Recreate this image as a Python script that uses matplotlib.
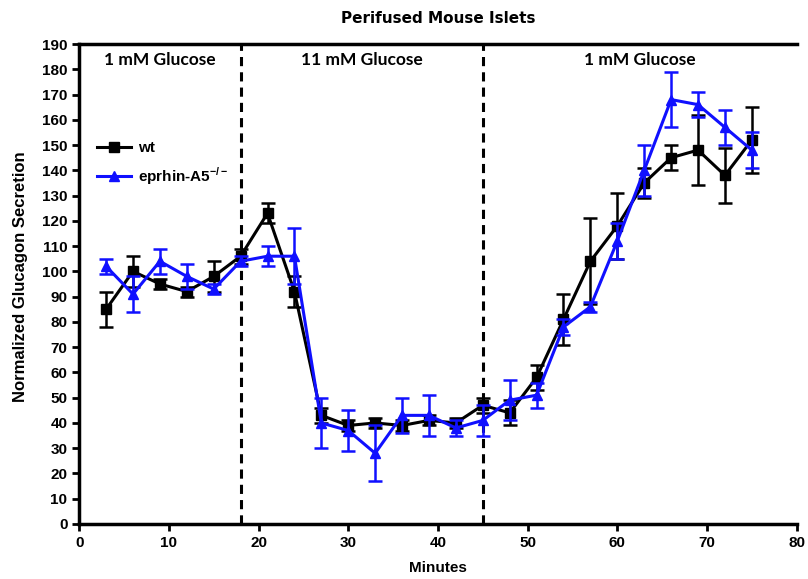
import numpy as np
import matplotlib
matplotlib.use("Agg")
from matplotlib import pyplot as plt
from matplotlib.lines import Line2D

# time points (minutes)
minutes = [3, 6, 9, 12, 15, 18, 21, 24, 27, 30, 33, 36, 39, 42, 45,
           48, 51, 54, 57, 60, 63, 66, 69, 72, 75]

# wild type: mean and error (SEM)
wt_mean = [85, 100, 95, 92, 98, 106, 123, 92, 43, 39, 40, 39, 41, 40, 47,
           44, 58, 81, 104, 118, 135, 145, 148, 138, 152]
wt_err = [7, 6, 2, 2, 6, 3, 4, 6, 3, 2, 2, 2, 2, 2, 3,
          5, 5, 10, 17, 13, 6, 5, 14, 11, 13]

# ephrin-A5 knockout
ko_mean = [102, 91, 104, 98, 93, 104, 106, 106, 40, 37, 28, 43, 43, 38, 41,
           49, 51, 78, 86, 112, 140, 168, 166, 157, 148]
ko_err = [3, 7, 5, 5, 2, 2, 4, 11, 10, 8, 11, 7, 8, 3, 6,
          8, 5, 3, 2, 7, 10, 11, 5, 7, 7]

boundaries = [18, 45]
region_labels = ["1 mM Glucose", "11 mM Glucose", "1 mM Glucose"]
region_centers = [9, 31.5, 62.5]

plt.rcParams["font.family"] = ["Liberation Sans Narrow", "Liberation Sans", "DejaVu Sans"]
plt.rcParams["font.weight"] = "bold"

fig = plt.figure(figsize=(8.08, 5.79), dpi=100)
ax = fig.add_axes([0.098, 0.095, 0.888, 0.829])

wt_color = "black"
ko_color = "#1010ff"

ax.errorbar(minutes, wt_mean, yerr=wt_err, color=wt_color, marker="s",
            markersize=7, linewidth=2.2, elinewidth=1.8, capsize=5,
            capthick=1.8, zorder=3)
ax.errorbar(minutes, ko_mean, yerr=ko_err, color=ko_color, marker="^",
            markersize=7, linewidth=2.2, elinewidth=1.8, capsize=5,
            capthick=1.8, zorder=4)

for b in boundaries:
    ax.axvline(b, color="black", linestyle=(0, (3, 2)), linewidth=2.2, zorder=2)

for lbl, cx in zip(region_labels, region_centers):
    ax.text(cx, 183.5, lbl, ha="center", va="center", fontsize=12.5,
            family=["Lato", "DejaVu Sans"], fontweight="bold")

ax.set_xlim(0, 80)
ax.set_ylim(0, 190)
ax.set_xticks(np.arange(0, 81, 10))
ax.set_yticks(np.arange(0, 191, 10))
ax.tick_params(axis="both", direction="out", length=5, width=2, labelsize=11)

for side in ["left", "bottom", "top"]:
    ax.spines[side].set_linewidth(2.5)
ax.spines["right"].set_visible(False)

ax.set_xlabel("Minutes", fontsize=11, fontweight="bold", labelpad=8)
ax.set_ylabel("Normalized Glucagon Secretion", fontsize=12, fontweight="bold")
ax.yaxis.set_label_coords(-0.071, 0.515)
ax.set_title("Perifused Mouse Islets", fontsize=11, fontweight="bold",
             family=["DejaVu Sans"], pad=15)

handles = [
    Line2D([], [], color=wt_color, marker="s", markersize=7, linewidth=2.2),
    Line2D([], [], color=ko_color, marker="^", markersize=7, linewidth=2.2),
]
labels = ["wt", r"eprhin-A5$^{\mathregular{-/-}}$"]
ax.legend(handles, labels, loc="upper left", bbox_to_anchor=(0.01, 0.82),
          frameon=False, fontsize=11, handlelength=2.2, handletextpad=0.5,
          borderaxespad=0.3, labelspacing=0.65)

fig.savefig("out.png", dpi=100)
